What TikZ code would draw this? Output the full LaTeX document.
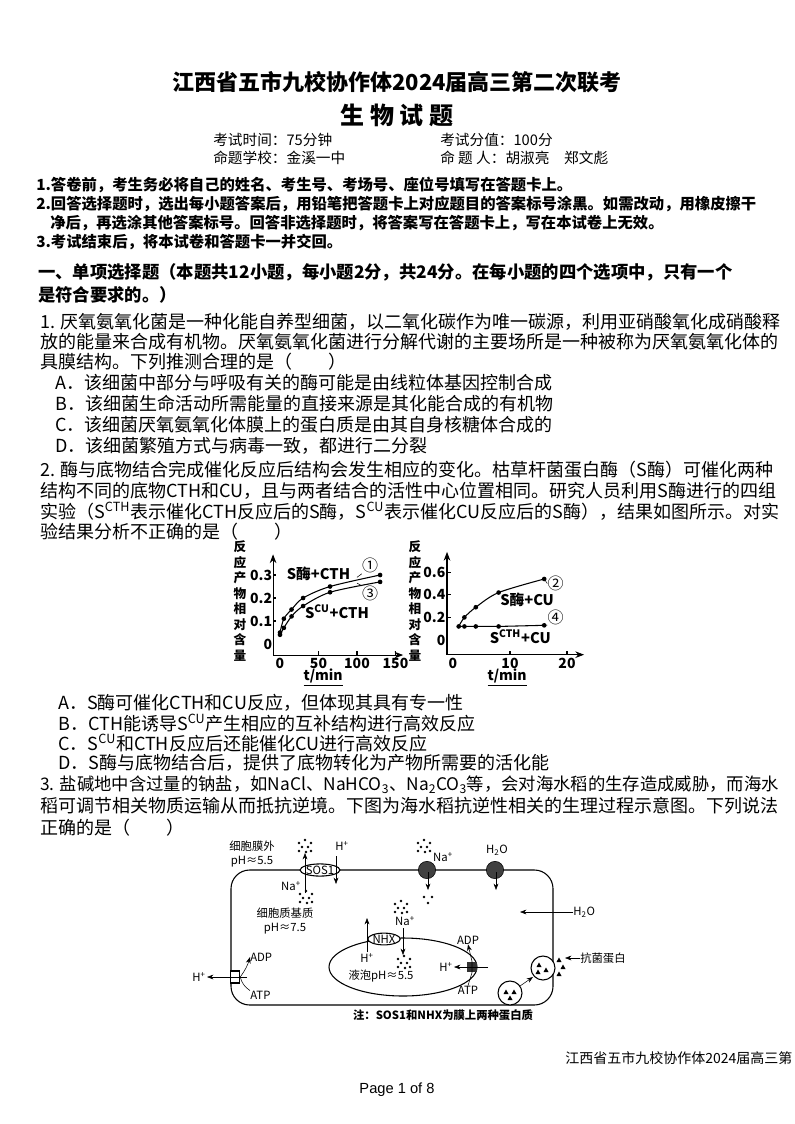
\documentclass[tikz,border=0pt]{standalone}
\usepackage{fontspec}
\setmainfont{Noto Sans CJK SC}
\newfontfamily\pagefont{Liberation Sans}
\usetikzlibrary{arrows.meta, positioning, shapes.geometric}
\tikzset{
  line/.style={anchor=west, inner sep=0pt, font=\fontsize{13.5}{16}\selectfont},
  note/.style={anchor=west, inner sep=0pt, font=\fontsize{11.5}{14}\selectfont\bfseries},
  lbl/.style={inner sep=0pt, font=\fontsize{8.5}{10}\selectfont},
  glbl/.style={inner sep=0pt, font=\fontsize{10.5}{12}\selectfont\bfseries},
  pt/.style={circle, fill, inner sep=0pt, minimum size=3.5pt},
  dots/.pic={\foreach \p in {(-6,-3),(0,-6),(6,-3),(-3,1),(3,1),(-6,5),(1,6),(6,5)} \fill \p circle (1.3);}
}
\begin{document}
\begin{tikzpicture}[x=0.75pt, y=-0.75pt, >=Stealth]
\useasboundingbox (0,0) rectangle (794,1124);

% Header
\node[inner sep=0, font=\fontsize{16.5}{19}\selectfont\bfseries] (title) at (397,82) {江西省五市九校协作体2024届高三第二次联考};
\node[inner sep=0, font=\fontsize{18}{20}\selectfont\bfseries] (subject) at (397,115) {生 物 试 题};
\node[anchor=west, inner sep=0, font=\fontsize{11}{13}\selectfont] (time) at (213,140) {考试时间：75分钟};
\node[anchor=west, inner sep=0, font=\fontsize{11}{13}\selectfont] (score) at (440,140) {考试分值：100分};
\node[anchor=west, inner sep=0, font=\fontsize{11}{13}\selectfont] (school) at (213,158) {命题学校：金溪一中};
\node[anchor=west, inner sep=0, font=\fontsize{11}{13}\selectfont] (author) at (440,158) {命\ 题\ 人：胡淑亮\quad 郑文彪};

\node[note] (n1) at (36,185) {1.答卷前，考生务必将自己的姓名、考生号、考场号、座位号填写在答题卡上。};
\node[note] (n2) at (36,204) {2.回答选择题时，选出每小题答案后，用铅笔把答题卡上对应题目的答案标号涂黑。如需改动，用橡皮擦干};
\node[note] (n2b) at (50,223) {净后，再选涂其他答案标号。回答非选择题时，将答案写在答题卡上，写在本试卷上无效。};
\node[note] (n3) at (36,242) {3.考试结束后，将本试卷和答题卡一并交回。};

\node[line, font=\fontsize{13}{16}\selectfont\bfseries] (sec) at (38,272) {一、单项选择题（本题共12小题，每小题2分，共24分。在每小题的四个选项中，只有一个};
\node[line, font=\fontsize{13}{16}\selectfont\bfseries] (sec2) at (38,295) {是符合要求的。）};

% Question 1
\node[line] (q1a) at (40,322) {1. 厌氧氨氧化菌是一种化能自养型细菌，以二氧化碳作为唯一碳源，利用亚硝酸氧化成硝酸释};
\node[line] (q1b) at (40,342) {放的能量来合成有机物。厌氧氨氧化菌进行分解代谢的主要场所是一种被称为厌氧氨氧化体的};
\node[line] (q1c) at (40,362) {具膜结构。下列推测合理的是（\qquad ）};
\node[line] (q1A) at (55,383) {A．该细菌中部分与呼吸有关的酶可能是由线粒体基因控制合成};
\node[line] (q1B) at (55,404) {B．该细菌生命活动所需能量的直接来源是其化能合成的有机物};
\node[line] (q1C) at (55,425) {C．该细菌厌氧氨氧化体膜上的蛋白质是由其自身核糖体合成的};
\node[line] (q1D) at (55,446) {D．该细菌繁殖方式与病毒一致，都进行二分裂};

% Question 2
\node[line] (q2a) at (40,470) {2. 酶与底物结合完成催化反应后结构会发生相应的变化。枯草杆菌蛋白酶（S酶）可催化两种};
\node[line] (q2b) at (40,491) {结构不同的底物CTH和CU，且与两者结合的活性中心位置相同。研究人员利用S酶进行的四组};
\node[line] (q2c) at (40,511) {实验（S\textsuperscript{CTH}表示催化CTH反应后的S酶，S\textsuperscript{CU}表示催化CU反应后的S酶），结果如图所示。对实};
\node[line] (q2d) at (40,532) {验结果分析不正确的是（\qquad ）};

% Graph 1
\begin{scope}[shift={(280,644)}, xscale=0.77, yscale=-230]
  \draw[thick, ->] (-9,-0.048) -- (-9,0.39);
  \draw[thick, ->] (-9,-0.048) -- (160,-0.048);
  \foreach \v in {0.1,0.2,0.3} \draw[thick] (-9,\v) -- (-5,\v);
  \foreach \t in {50,100,150} \draw[thick] (\t,-0.048) -- (\t,-0.03);
  \foreach \v/\s in {0/0,0.1/0.1,0.2/0.2,0.3/0.3} \node[glbl, anchor=east] (ya\s) at (-10,\v) {\s};
  \foreach \t in {0,50,100,150} \node[glbl, anchor=north] (xa\t) at (\t,-0.06) {\t};
  \draw[thick] plot[smooth] coordinates {(0,0.05) (5,0.11) (15,0.15) (30,0.2) (65,0.25) (130,0.3)};
  \draw[thick] plot[smooth] coordinates {(0,0.04) (5,0.07) (15,0.12) (30,0.165) (65,0.225) (130,0.27)};
  \foreach \p in {(0,0.05),(5,0.11),(15,0.15),(30,0.2),(65,0.25),(130,0.3),(0,0.04),(5,0.07),(15,0.12),(30,0.165),(65,0.225),(130,0.27)}
    \node[pt] at \p {};
  \node[glbl, font=\fontsize{11}{12}\selectfont\bfseries] (s1) at (50,0.305) {S酶+CTH};
  \node[glbl, font=\fontsize{11}{12}\selectfont\bfseries] (s3) at (74,0.14) {S\textsuperscript{CU}+CTH};
  \node[glbl, font=\fontsize{12}{12}\selectfont] (c1) at (117,0.34) {①};
  \node[glbl, font=\fontsize{12}{12}\selectfont] (c3) at (117,0.22) {③};
  \draw (c1.south west) -- (100,0.29);
  \draw (c3.north west) -- (100,0.265);
  \node[glbl, font=\fontsize{10.5}{12}\selectfont\bfseries\itshape] (tx1) at (56,-0.145) {\underline{t/min}};
\end{scope}
\node[glbl, align=center, font=\fontsize{9.5}{11.6}\selectfont\bfseries] (ylab1) at (240,601) {反\\应\\产\\物\\相\\对\\含\\量};

% Graph 2
\begin{scope}[shift={(453,640)}, xscale=5.7, yscale=-113]
  \draw[thick, ->] (-1.05,-0.13) -- (-1.05,0.78);
  \draw[thick, ->] (-1.05,-0.13) -- (23,-0.13);
  \foreach \v in {0.2,0.4,0.6} \draw[thick] (-1.05,\v) -- (-0.4,\v);
  \foreach \t in {10,20} \draw[thick] (\t,-0.13) -- (\t,-0.1);
  \foreach \v/\s in {0/0,0.2/0.2,0.4/0.4,0.6/0.6} \node[glbl, anchor=east] (yb\s) at (-1.3,\v) {\s};
  \foreach \t in {0,10,20} \node[glbl, anchor=north] (xb\t) at (\t,-0.155) {\t};
  \draw[thick] plot[smooth] coordinates {(1,0.12) (2,0.2) (4,0.29) (8,0.42) (16,0.54)};
  \draw[thick] (1,0.12) -- (8,0.12) -- (16,0.13);
  \foreach \p in {(1,0.12),(2,0.2),(4,0.29),(8,0.42),(16,0.54),(2,0.12),(4,0.12),(8,0.12),(16,0.13)}
    \node[pt] at \p {};
  \node[glbl, font=\fontsize{11}{12}\selectfont\bfseries] (s2) at (13,0.36) {S酶+CU};
  \node[glbl, font=\fontsize{11}{12}\selectfont\bfseries] (s4) at (11.8,0.03) {S\textsuperscript{CTH}+CU};
  \node[glbl, font=\fontsize{12}{12}\selectfont] (c2) at (18,0.5) {②};
  \node[glbl, font=\fontsize{12}{12}\selectfont] (c4) at (18,0.2) {④};
  \draw (c2.west) -- (16,0.54);
  \draw (c4.south west) -- (15,0.13);
  \node[glbl, font=\fontsize{10.5}{12}\selectfont\bfseries\itshape] (tx2) at (9.5,-0.33) {\underline{t/min}};
\end{scope}
\node[glbl, align=center, font=\fontsize{9.5}{11.6}\selectfont\bfseries] (ylab2) at (415,601) {反\\应\\产\\物\\相\\对\\含\\量};

% Options of Q2
\node[line] (q2A) at (58,703) {A．S酶可催化CTH和CU反应，但体现其具有专一性};
\node[line] (q2B) at (58,723) {B．CTH能诱导S\textsuperscript{CU}产生相应的互补结构进行高效反应};
\node[line] (q2C) at (58,743) {C．S\textsuperscript{CU}和CTH反应后还能催化CU进行高效反应};
\node[line] (q2D) at (58,763) {D．S酶与底物结合后，提供了底物转化为产物所需要的活化能};

% Question 3
\node[line, font=\fontsize{13}{16}\selectfont] (q3a) at (40,785) {3. 盐碱地中含过量的钠盐，如NaCl、NaHCO\textsubscript{3}、Na\textsubscript{2}CO\textsubscript{3}等，会对海水稻的生存造成威胁，而海水};
\node[line] (q3b) at (40,806) {稻可调节相关物质运输从而抵抗逆境。下图为海水稻抗逆性相关的生理过程示意图。下列说法};
\node[line] (q3c) at (40,828) {正确的是（\qquad ）};

% Cell diagram
\draw[thick, rounded corners=14] (231,870) rectangle (553,1005);
\node[lbl, align=center] (outside) at (252,854) {细胞膜外\\pH≈5.5};
\node[draw, thick, fill=white, ellipse, inner sep=0.5pt, lbl] (sos) at (320,870) {SOS1};
\draw[->] (305,893) -- (305,853);
\pic at (305,846) {dots};
\pic at (306,897) {dots};
\node[lbl] (na1) at (291,886) {Na\textsuperscript{+}};
\node[lbl] (h1) at (342,846) {H\textsuperscript{+}};
\draw[->] (336,856) -- (336,884);
\node[circle, fill=black!75, draw, minimum size=13pt, inner sep=0] (ch1) at (427,870) {};
\pic at (424,846) {dots};
\node[lbl] (na2) at (443,857) {Na\textsuperscript{+}};
\draw[->] (428,872) -- (428,890);
\foreach \p in {(424,897),(432,897),(428,903)} \fill \p circle (1.3);
\node[circle, fill=black!75, draw, minimum size=13pt, inner sep=0] (ch2) at (495,870) {};
\node[lbl] (h2o1) at (497,850) {H\textsubscript{2}O};
\draw[->] (496,872) -- (496,890);
\node[lbl, align=center] (cyto) at (285,921) {细胞质基质\\pH≈7.5};
\node[lbl, anchor=west] (h2o2) at (573,912) {H\textsubscript{2}O};
\draw[->] (h2o2.west) -- (520,912);
% vacuole
\draw[thick] (403,967) ellipse (74 and 29);
\node[draw, thick, fill=white, ellipse, inner sep=0.5pt, lbl] (nhx) at (384,939) {NHX};
\draw[->] (367,952) -- (367,918);
\node[lbl] (h3) at (367,958) {H\textsuperscript{+}};
\pic at (401,907) {dots};
\node[lbl] (na3) at (405,921) {Na\textsuperscript{+}};
\draw[->] (403,928) -- (403,955);
\pic at (404,962) {dots};
\node[lbl] (vac) at (381,976) {液泡pH≈5.5};
\node[fill=black!80, minimum size=8pt, inner sep=0] (pump2) at (472,967) {};
\draw[->] (488,967) -- (454,967);
\node[lbl, anchor=east] (h4) at (453,967) {H\textsuperscript{+}};
\node[lbl] (adp2) at (468,940) {ADP};
\node[lbl] (atp2) at (468,990) {ATP};
\draw[->] (atp2.north) -- (pump2.south) -- (pump2.north) -- (adp2.south);
% plasma membrane pump
\node[draw, thick, fill=white, minimum width=7pt, minimum height=9pt, inner sep=0] (pump1) at (235,977) {};
\draw[->] (247,977) -- (207,977);
\node[lbl, anchor=east] (h5) at (206,977) {H\textsuperscript{+}};
\node[lbl, anchor=west] (adp1) at (250,957) {ADP};
\node[lbl, anchor=west] (atp1) at (250,995) {ATP};
\draw[->] (atp1.north west) to[bend left=20] (pump1.east) to[bend right=10] (adp1.west);
% antibacterial protein
\draw[thick, fill=white] (543,968) circle (12);
\draw[thick, fill=white] (510,993) circle (12);
\foreach \p in {(539,965),(546,970),(538,972),(506,992),(514,992),(510,998)}
  \fill \p ++(0,-2.5) -- ++(2.5,4.5) -- ++(-5,0) -- cycle;
\foreach \p in {(559,960),(563,967),(559,974)}
  \fill \p ++(0,-2.5) -- ++(2.5,4.5) -- ++(-5,0) -- cycle;
\draw[->] (520,986) -- (533,977);
\node[lbl, anchor=west] (abp) at (580,958) {抗菌蛋白};
\draw[->] (abp.west) -- (565,958);
\node[lbl, font=\fontsize{8.5}{10}\selectfont\bfseries] (remark) at (443,1015) {注：SOS1和NHX为膜上两种蛋白质};

% Footer
\node[anchor=west, inner sep=0, font=\fontsize{10.5}{12}\selectfont] (footer) at (565,1058) {江西省五市九校协作体2024届高三第};
\node[inner sep=0, font=\pagefont\fontsize{11}{13}\selectfont] (page) at (397,1090) {Page 1 of 8};
\end{tikzpicture}
\end{document}
